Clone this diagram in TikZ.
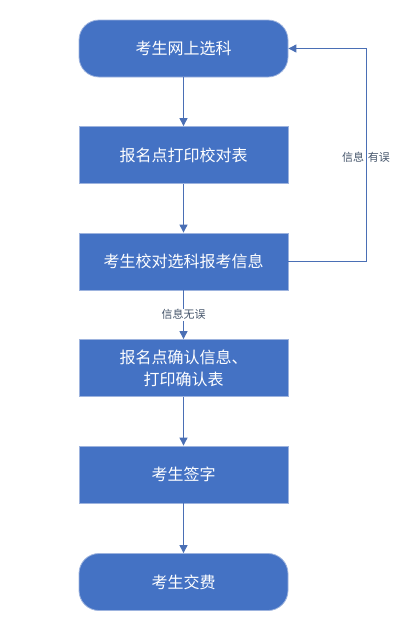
\documentclass[tikz,border=0pt]{standalone}
\usepackage{fontspec}
\newfontfamily\cjk{Noto Sans CJK SC}
\usetikzlibrary{arrows.meta}
\definecolor{boxfill}{HTML}{4472C4}
\definecolor{boxedge}{HTML}{9DB3DE}
\definecolor{linec}{HTML}{4A6FB5}
\definecolor{labc}{HTML}{44546A}
\tikzset{
  procbox/.style={draw=boxedge, line width=0.8pt, fill=boxfill, text=white, minimum width=209pt, minimum height=57pt, inner sep=0pt, font=\cjk\fontsize{16}{22}\selectfont, align=center},
  termbox/.style={procbox, rounded corners=20pt},
  conn/.style={draw=linec, line width=0.9pt, -{Triangle[length=8pt,width=8pt]}},
  lab/.style={text=labc, font=\cjk\fontsize{11}{13}\selectfont, inner sep=1pt}
}
\begin{document}
\begin{tikzpicture}[x=1pt,y=-1pt]
\useasboundingbox (0,0) rectangle (416,643);
\node[termbox] (a) at (183.5,48.5) {考生网上选科};
\node[procbox] (b) at (183.5,155) {报名点打印校对表};
\node[procbox] (c) at (183.5,261.5) {考生校对选科报考信息};
\node[procbox] (d) at (183.5,368) {报名点确认信息、\\打印确认表};
\node[procbox] (e) at (183.5,474.5) {考生签字};
\node[termbox] (f) at (183.5,582) {考生交费};
\coordinate (r1) at (366,261.5);
\coordinate (r2) at (366,48.5);
\draw[conn] (a) -- (b);
\draw[conn] (b) -- (c);
\draw[conn] (c) -- node[lab, fill=white] (l1) {信息无误} (d);
\draw[conn] (d) -- (e);
\draw[conn] (e) -- (f);
\draw[conn] (c.east) -- (r1) -- (r2) -- (a.east);
\node[lab] (l2) at (366,157) {信息\hspace{4pt}有误};
\end{tikzpicture}
\end{document}
